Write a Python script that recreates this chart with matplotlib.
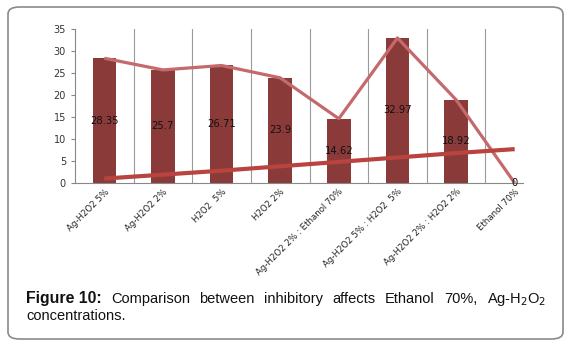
import matplotlib.pyplot as plt
from matplotlib.patches import FancyBboxPatch

# data
categories = ["Ag-H2O2 5%", "Ag-H2O2 2%", "H2O2  5%", "H2O2 2%",
              "Ag-H2O2 2% : Ethanol 70%", "Ag-H2O2 5% : H2O2  5%",
              "Ag-H2O2 2% : H2O2 2%", "Ethanol 70%"]
values = [28.35, 25.7, 26.71, 23.9, 14.62, 32.97, 18.92, 0]
value_labels = ["28.35", "25.7", "26.71", "23.9", "14.62", "32.97", "18.92", "0"]
trend = [1.0, 1.9, 2.8, 3.8, 4.8, 5.8, 6.8, 7.7]
yticks = [0, 5, 10, 15, 20, 25, 30, 35]

W, H = 571, 345
fig = plt.figure(figsize=(W / 100, H / 100), dpi=100)

# rounded frame around chart + caption
frame = FancyBboxPatch((8 / W, 6 / H), 555 / W, 332 / H,
                       boxstyle="round,pad=0,rounding_size=0.02",
                       transform=fig.transFigure, fill=False,
                       edgecolor="#8a8a8a", lw=1.2)
fig.patches.append(frame)

ax = fig.add_axes([75 / W, 1 - 183 / H, 469 / W, 154 / H])
x = list(range(len(categories)))

ax.bar(x, values, width=0.4, color="#8b3a3a", zorder=2)
ax.plot(x, values, color="#c46a6c", lw=2.3, zorder=3, solid_capstyle="butt")
ax.plot(x, trend, color="#b8433f", lw=3.0, zorder=4, solid_capstyle="butt")

for i, (v, s) in enumerate(zip(values, value_labels)):
    ax.text(i, v / 2, s, ha="center", va="center", fontsize=7.2,
            color="#111111", zorder=5)

# category separators
for b in [i + 0.5 for i in range(len(categories) - 1)]:
    ax.axvline(b, color="#9a9a9a", lw=0.8, zorder=1)

ax.set_xlim(-0.5, 7.5)
ax.set_ylim(0, 35)
ax.set_yticks(yticks)
ax.set_xticks(x)
ax.set_xticklabels(categories, rotation=45, ha="right", va="top",
                   rotation_mode="anchor", fontsize=6.2, color="#222222")
ax.tick_params(axis="x", length=0, pad=3)
ax.tick_params(axis="y", labelsize=7, colors="#333333", length=3,
               width=0.8, color="#888888")
for s in ["top", "right"]:
    ax.spines[s].set_visible(False)
ax.spines["left"].set_color("#888888")
ax.spines["bottom"].set_color("#888888")
ax.spines["bottom"].set_bounds(-0.5, 7.15)

# caption, justified on first line
fig.canvas.draw()
r = fig.canvas.get_renderer()
cap_font = dict(family="Liberation Sans", color="#111111")
words = [("Figure 10:", "bold", 11.4), ("Comparison", "normal", 10.5),
         ("between", "normal", 10.5), ("inhibitory", "normal", 10.5),
         ("affects", "normal", 10.5), ("Ethanol", "normal", 10.5),
         ("70%,", "normal", 10.5), (r"Ag-H$_2$O$_2$", "normal", 10.5)]
x0, x1, ycap = 26, 546, 1 - 303 / H
arts = []
for w, wt, fs in words:
    t = fig.text(0, ycap, w, fontweight=wt, fontsize=fs, va="baseline",
                 ha="left", **cap_font)
    arts.append(t)
widths = [t.get_window_extent(r).width for t in arts]
gap = (x1 - x0 - sum(widths)) / (len(arts) - 1)
pos = x0
for t, w in zip(arts, widths):
    t.set_x(pos / W)
    pos += w + gap
fig.text(x0 / W, 1 - 320 / H, "concentrations.", fontsize=10.5,
         va="baseline", ha="left", **cap_font)

fig.savefig("out.png", dpi=100)
